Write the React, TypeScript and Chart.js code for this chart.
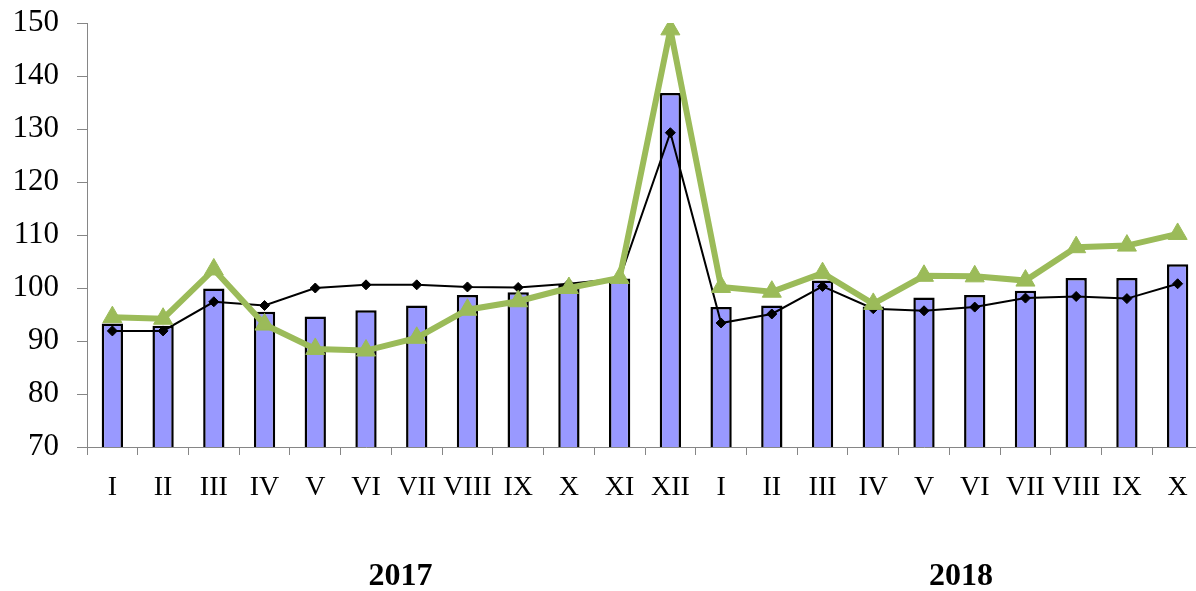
import React, { useEffect, useRef } from 'react';
import { Chart, registerables } from 'chart.js';

Chart.register(...registerables);

const categories = ['I', 'II', 'III', 'IV', 'V', 'VI', 'VII', 'VIII', 'IX', 'X', 'XI', 'XII',
  'I', 'II', 'III', 'IV', 'V', 'VI', 'VII', 'VIII', 'IX', 'X'];
const years = ['2017', '2018'];
const barValues = [93.3, 92.9, 99.9, 95.5, 94.6, 95.8, 96.7, 98.7, 99.2, 100.6, 101.8, 136.8,
  96.4, 96.7, 101.4, 96.5, 98.2, 98.7, 99.5, 101.9, 101.9, 104.5];
const blackValues = [91.9, 91.9, 97.4, 96.7, 100.0, 100.6, 100.6, 100.2, 100.1, 100.8, 101.8, 129.3,
  93.4, 95.1, 100.3, 96.1, 95.7, 96.4, 98.1, 98.4, 98.0, 100.8];
const greenValues = [94.5, 94.2, 103.5, 93.1, 88.5, 88.2, 90.6, 95.9, 97.5, 100.0, 101.9, 148.8,
  100.2, 99.3, 102.8, 97.0, 102.3, 102.2, 101.4, 107.7, 108.0, 110.2];
const yMin = 70;
const yMax = 150;
const yStep = 10;

const FONT = '"Liberation Serif", "Times New Roman", serif';

export default function App() {
  const ref = useRef<HTMLCanvasElement | null>(null);

  useEffect(() => {
    const canvas = ref.current;
    if (!canvas) return;
    const yearPlugin = {
      id: 'yearLabels',
      afterDraw(chart: any) {
        const { ctx } = chart;
        const xs = chart.scales.x;
        const idx = [5.68, 16.73];
        ctx.save();
        ctx.font = `bold 32px ${FONT}`;
        ctx.fillStyle = '#000';
        ctx.textAlign = 'center';
        ctx.textBaseline = 'middle';
        years.forEach((y, i) => {
          ctx.fillText(y, xs.getPixelForValue(idx[i]), 577);
        });
        ctx.restore();
      },
    };
    const chart = new Chart(canvas, {
      type: 'bar',
      data: {
        labels: categories,
        datasets: [
          {
            type: 'line',
            data: greenValues,
            borderColor: '#9BBB59',
            backgroundColor: '#9BBB59',
            borderWidth: 6,
            pointStyle: 'triangle',
            pointRadius: 11,
            pointBorderWidth: 1,
            pointBackgroundColor: '#9BBB59',
            pointBorderColor: '#9BBB59',
            tension: 0,
            order: 0,
          } as any,
          {
            type: 'line',
            data: blackValues,
            borderColor: '#000',
            backgroundColor: '#000',
            borderWidth: 2,
            pointStyle: 'rectRot',
            pointRadius: 5,
            pointBorderWidth: 1,
            pointBackgroundColor: '#000',
            pointBorderColor: '#000',
            tension: 0,
            order: 1,
          } as any,
          {
            type: 'bar',
            data: barValues,
            backgroundColor: '#9999FF',
            borderColor: '#000',
            borderWidth: 2.5,
            barPercentage: 0.42,
            categoryPercentage: 1,
            order: 2,
          },
        ],
      },
      options: {
        responsive: false,
        animation: false,
        devicePixelRatio: 1,
        layout: { padding: { top: 23, right: 2, left: 0, bottom: 0 } },
        plugins: { legend: { display: false }, tooltip: { enabled: false } },
        scales: {
          x: {
            offset: true,
            grid: {
              offset: true,
              drawOnChartArea: false,
              drawTicks: true,
              tickLength: 8,
              color: '#868686',
            },
            border: { display: true, color: '#868686', width: 1 },
            ticks: {
              color: '#000',
              font: { family: FONT, size: 28 },
              padding: 16,
              maxRotation: 0,
              autoSkip: false,
            },
            afterFit(scale: any) {
              scale.height = 144;
              scale.paddingLeft = 0;
              scale.paddingRight = 0;
            },
          },
          y: {
            min: yMin,
            max: yMax,
            grid: {
              drawOnChartArea: false,
              drawTicks: true,
              tickLength: 10,
              color: '#868686',
            },
            border: { display: true, color: '#868686', width: 1 },
            ticks: {
              stepSize: yStep,
              color: '#000',
              font: { family: FONT, size: 31 },
              padding: 18,
            },
            afterFit(scale: any) {
              scale.width = 87;
              scale.paddingTop = 0;
              scale.paddingBottom = 0;
            },
          },
        },
      },
      plugins: [yearPlugin],
    });
    return () => chart.destroy();
  }, []);

  return (
    <div style={{ position: 'fixed', left: 0, top: 0, width: 1196, height: 591, overflow: 'hidden', background: '#fff' }}>
      <canvas ref={ref} width={1215} height={591} style={{ display: 'block', width: 1215, height: 591 }} />
    </div>
  );
}
